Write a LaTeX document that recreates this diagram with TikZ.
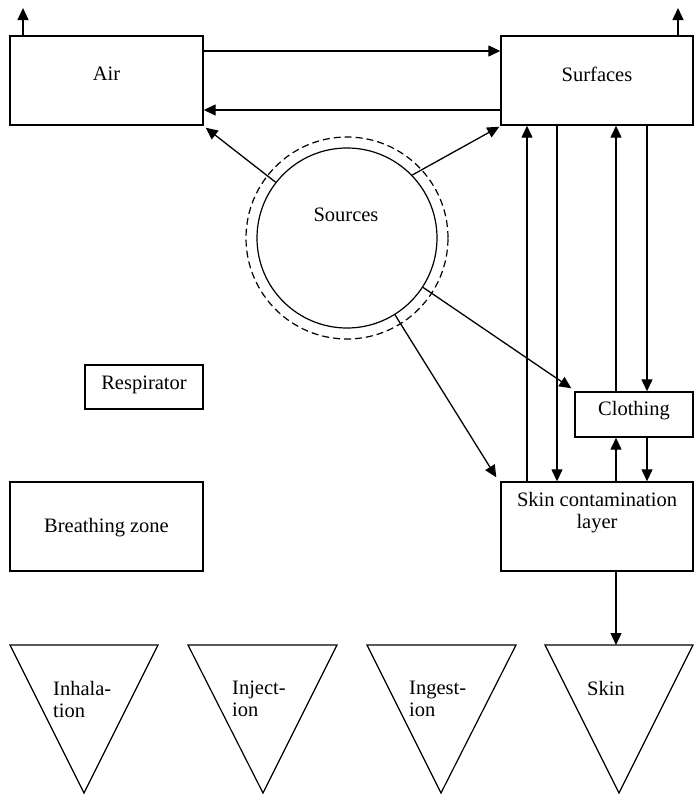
\documentclass[tikz,border=0pt]{standalone}
\usepackage{fontspec}
\setmainfont{Liberation Serif}
\usetikzlibrary{arrows.meta,calc}
\begin{document}
\begin{tikzpicture}[x=1pt,y=-1pt,
  box/.style={draw,line width=1.4pt,rectangle,inner sep=0pt},
  tri/.style={draw,line width=1.2pt,line join=miter},
  arr/.style={line width=1.3pt,-{Triangle[length=12pt,width=11pt]}},
  lbl/.style={inner sep=0pt,font=\fontsize{20.5}{22}\selectfont,align=center},
  lbll/.style={inner sep=0pt,font=\fontsize{20.5}{22}\selectfont,align=left,anchor=west}]
\path[use as bounding box] (0,0) rectangle (694,803);

% compartments
\node[box,minimum width=193pt,minimum height=89pt] (air) at (106.5,80.5) {};
\node[lbl] at (106.5,74) {Air};
\node[box,minimum width=192pt,minimum height=89pt] (surf) at (597,80.5) {};
\node[lbl] at (597,74) {Surfaces};

\node[draw,line width=1.2pt,circle,minimum size=180pt,inner sep=0pt] (src) at (347,238) {};
\node[draw,line width=1.2pt,circle,dash pattern=on 7pt off 4pt,minimum size=202pt,inner sep=0pt] (srcout) at (347,238) {};
\node[lbl] at (346,215) {Sources};

\node[box,minimum width=118pt,minimum height=44pt] (resp) at (144,387) {};
\node[lbl] at (144,385) {Respirator};
\node[box,minimum width=193pt,minimum height=89pt] (bz) at (106.5,526.5) {};
\node[lbl] at (106.5,528) {Breathing zone};

\node[box,minimum width=118pt,minimum height=45pt] (cloth) at (634,414.5) {};
\node[lbl] at (634,411) {Clothing};
\node[box,minimum width=192pt,minimum height=89pt] (scl) at (597,526.5) {};
\node[lbl,anchor=north] at (597,492) {Skin contamination\\layer};

% uptake routes
\draw[tri] (10,645) -- (158,645) -- (84,793) -- cycle;
\draw[tri] (188,645) -- (337,645) -- (263,793) -- cycle;
\draw[tri] (367,645) -- (516,645) -- (441,793) -- cycle;
\draw[tri] (545,645) -- (693,645) -- (619,793) -- cycle;
\node[lbll] at (53,699) {Inhala-\\tion};
\node[lbll] at (232,699) {Inject-\\ion};
\node[lbll] at (409,699) {Ingest-\\ion};
\node[lbll] at (587,688) {Skin};

% helper coordinates for connector columns and rows
\coordinate (airout) at (23,8);
\coordinate (surfout) at (678,8);
\coordinate (row1) at (0,51);
\coordinate (row2) at (0,110);
\coordinate (c1) at (527,0);
\coordinate (c2) at (557,0);
\coordinate (c3) at (616,0);
\coordinate (c4) at (647,0);
\coordinate (skintop) at (616,645);

% connectors
\draw[arr] (air.north -| airout) -- (airout);
\draw[arr] (surf.north -| surfout) -- (surfout);
\draw[arr] (air.east |- row1) -- (surf.west |- row1);
\draw[arr] (surf.west |- row2) -- (air.east |- row2);

\draw[arr] (src.142) -- ([shift={(2,2)}]air.south east);
\draw[arr] (src.44) -- ([shift={(-1,1)}]surf.south west);
\draw[arr] (src.-33) -- ([shift={(-3,-3)}]cloth.north west);
\draw[arr] (src.-58) -- ([shift={(-4,-4)}]scl.north west);

\draw[arr] (scl.north -| c1) -- (surf.south -| c1);
\draw[arr] (surf.south -| c2) -- (scl.north -| c2);
\draw[arr] (cloth.north -| c3) -- (surf.south -| c3);
\draw[arr] (surf.south -| c4) -- (cloth.north -| c4);
\draw[arr] (scl.north -| c3) -- (cloth.south -| c3);
\draw[arr] (cloth.south -| c4) -- (scl.north -| c4);
\draw[arr] (scl.south -| c3) -- (skintop);
\end{tikzpicture}
\end{document}
